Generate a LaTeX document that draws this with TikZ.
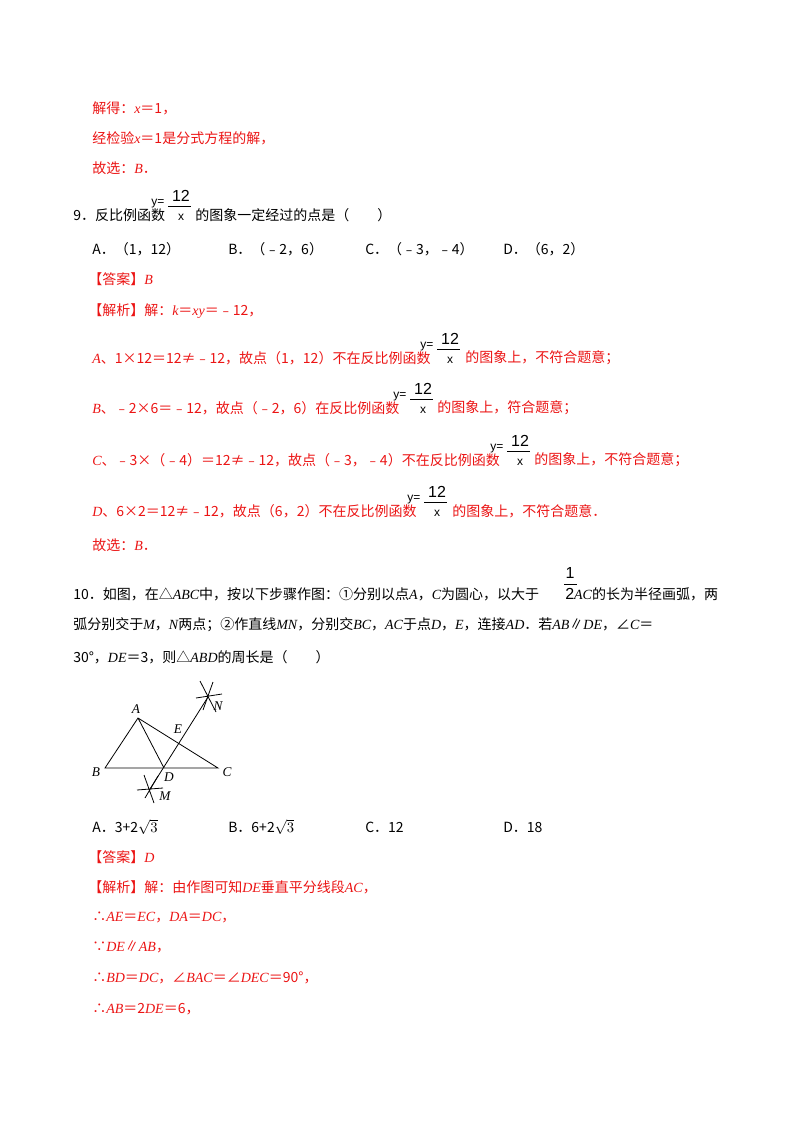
\documentclass[tikz,border=0pt]{standalone}
\usepackage{fontspec}
\setmainfont{Liberation Serif}
\newfontfamily\cjk{Noto Sans CJK SC}
\newfontfamily\frs{Liberation Sans}
\definecolor{ans}{RGB}{235,20,20}
\newcommand\vi[1]{{\rmfamily\itshape #1}}
\newcommand\yfr[2]{\begin{scope}[shift={(#1,#2)}]
 \node[font=\frs\fontsize{9}{9}\selectfont,anchor=west,inner sep=0] (yq) at (0,-11) {y=};
 \draw[line width=0.7pt] (17,-9) -- (40,-9);
 \node[font=\frs\fontsize{12}{12}\selectfont,inner sep=0] (n12) at (30,-19) {12};
 \node[font=\frs\fontsize{9}{9}\selectfont,inner sep=0] (dx) at (30,2) {x};
 \end{scope}}
\begin{document}
\begin{tikzpicture}[x=0.75pt,y=-0.75pt,
 tx/.style={anchor=west,inner sep=0,font=\cjk\fontsize{10.5}{10.5}\selectfont},
 rt/.style={tx,text=ans},
 lab/.style={font=\rmfamily\itshape\fontsize{10}{10}\selectfont,inner sep=0}]
\useasboundingbox (0,0) rectangle (800,1132);
\node[rt] (l1) at (92,108) {解得：\vi{x}＝1，};
\node[rt] (l2) at (92,138) {经检验\vi{x}＝1是分式方程的解，};
\node[rt] (l3) at (92,168) {故选：\vi{B}．};
\node[tx] (q9) at (73,215) {9．反比例函数};
\yfr{151}{215}
\node[tx] (q9b) at (195,215) {的图象一定经过的点是（\quad\quad）};
\node[tx] (oA) at (92,249) {A．（1，12）};
\node[tx] (oB) at (228,249) {B．（﹣2，6）};
\node[tx] (oC) at (365,249) {C．（﹣3，﹣4）};
\node[tx] (oD) at (503,249) {D．（6，2）};
\node[rt] (a9) at (88,279) {【答案】\vi{B}};
\node[rt] (j9) at (88,311) {【解析】解：\vi{k}＝\vi{xy}＝﹣12，};
\node[rt] (jA) at (92,358) {\vi{A}、1×12＝12≠﹣12，故点（1，12）不在反比例函数};
\yfr{420}{358}
\node[rt] (jA2) at (465,358) {的图象上，不符合题意；};
\node[rt] (jB) at (92,408) {\vi{B}、﹣2×6＝﹣12，故点（﹣2，6）在反比例函数};
\yfr{393}{408}
\node[rt] (jB2) at (437,408) {的图象上，符合题意；};
\node[rt] (jC) at (92,460) {\vi{C}、﹣3×（﹣4）＝12≠﹣12，故点（﹣3，﹣4）不在反比例函数};
\yfr{490}{460}
\node[rt] (jC2) at (534,460) {的图象上，不符合题意；};
\node[rt] (jD) at (92,511) {\vi{D}、6×2＝12≠﹣12，故点（6，2）不在反比例函数};
\yfr{407}{511}
\node[rt] (jD2) at (452,511) {的图象上，不符合题意．};
\node[rt] (l9e) at (92,545) {故选：\vi{B}．};
\node[tx] (q10a) at (73,594) {10．如图，在△\vi{ABC}中，按以下步骤作图：①分别以点\vi{A}，\vi{C}为圆心，以大于};
\node[font=\frs\fontsize{12}{12}\selectfont,inner sep=0] (h1) at (570,573) {1};
\draw (564,584) -- (577,584);
\node[tx] (q10b) at (565,594) {{\frs\fontsize{12}{12}\selectfont 2}\vi{AC}的长为半径画弧，两};
\node[tx] (q10c) at (73,625) {弧分别交于\vi{M}，\vi{N}两点；②作直线\vi{MN}，分别交\vi{BC}，\vi{AC}于点\vi{D}，\vi{E}，连接\vi{AD}．若\vi{AB}∥\vi{DE}，∠\vi{C}＝};
\node[tx] (q10d) at (73,657) {30°，\vi{DE}＝3，则△\vi{ABD}的周长是（\quad\quad）};
% figure
\coordinate (A) at (138,718); \coordinate (B) at (105,768); \coordinate (C) at (218,768);
\coordinate (D) at (164,768); \coordinate (E) at (181,737);
\coordinate (N) at (208,697); \coordinate (M) at (150,789);
\draw[line width=0.6pt] (A)--(B)--(C)--cycle (A)--(D);
\draw[line width=0.6pt] (M)--(N);
\draw[line width=0.6pt] (200,681)--(216,712) (196,698)--(222,694) (213,682)--(203,710);
\draw[line width=0.6pt] (144,775)--(154,803) (137,790)--(163,788) (158,776)--(145,798);
\node[lab] (lA) at (136,709) {A}; \node[lab] (lB) at (96,772) {B};
\node[lab] (lC) at (227,772) {C}; \node[lab] (lD) at (169,777) {D};
\node[lab] (lE) at (178,729) {E}; \node[lab] (lN) at (218,706) {N};
\node[lab] (lM) at (165,796) {M};
\node[tx] (oA10) at (92,827) {A．3+2$\sqrt{3}$};
\node[tx] (oB10) at (228,827) {B．6+2$\sqrt{3}$};
\node[tx] (oC10) at (365,827) {C．12};
\node[tx] (oD10) at (503,827) {D．18};
\node[rt] (a10) at (88,857) {【答案】\vi{D}};
\node[rt] (j10) at (88,887) {【解析】解：由作图可知\vi{DE}垂直平分线段\vi{AC}，};
\node[rt] (s1) at (92,917) {∴\vi{AE}＝\vi{EC}，\vi{DA}＝\vi{DC}，};
\node[rt] (s2) at (92,947) {∵\vi{DE}∥\vi{AB}，};
\node[rt] (s3) at (92,978) {∴\vi{BD}＝\vi{DC}，∠\vi{BAC}＝∠\vi{DEC}＝90°，};
\node[rt] (s4) at (92,1009) {∴\vi{AB}＝2\vi{DE}＝6，};
\end{tikzpicture}
\end{document}
